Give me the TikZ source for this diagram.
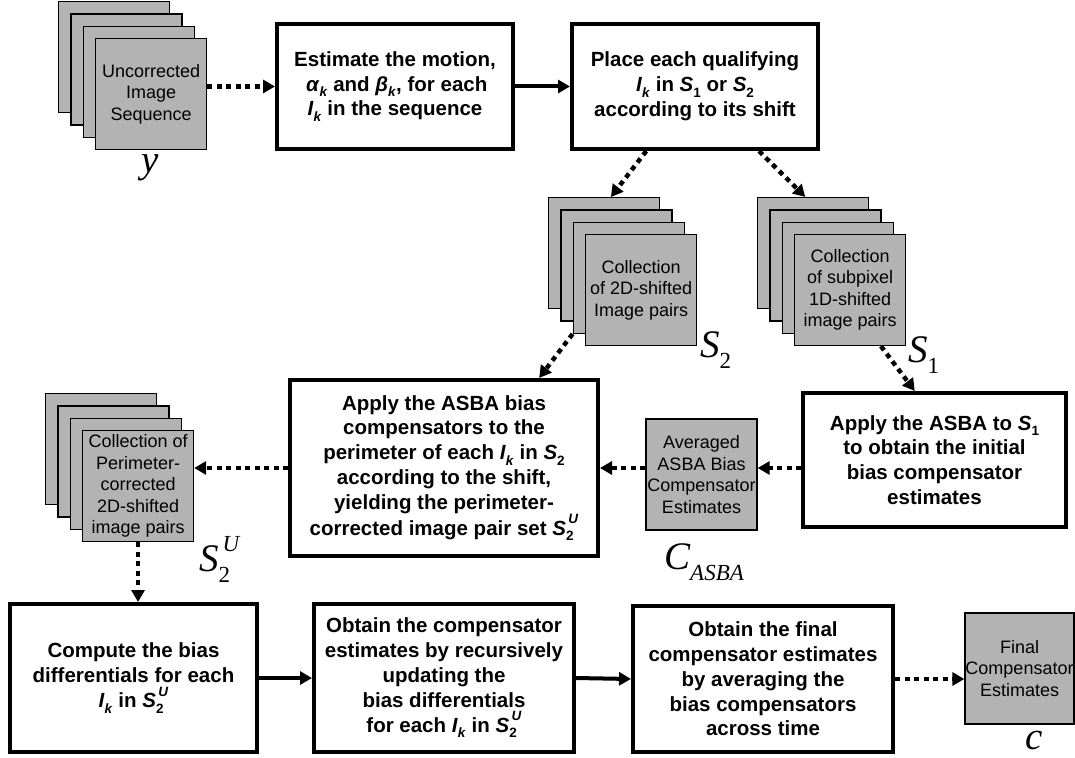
\documentclass[tikz,border=0pt]{standalone}
\usepackage{fontspec}
\setmainfont{Liberation Sans}
\newfontfamily\tms{Liberation Serif}
\usetikzlibrary{arrows.meta,calc}
\definecolor{boxgray}{RGB}{179,179,179}
\newcommand\sbx[1]{\raisebox{-0.28em}{\fontsize{13.5}{13.5}\selectfont #1}}
\newcommand\spx[1]{\raisebox{0.55em}{\fontsize{13.5}{13.5}\selectfont #1}}
\newcommand\Ik{\textit{I}\sbx{\textit{k}}}
\newcommand\Sone{\textit{S}\sbx{1}}
\newcommand\Stwo{\textit{S}\sbx{2}}
\newcommand\StwoU{\textit{S}\rlap{\sbx{2}}\spx{\,\textit{U}}}
\newcommand\lsub[1]{\raisebox{-0.3em}{\fontsize{23}{23}\selectfont #1}}
\newcommand\lsup[1]{\raisebox{0.5em}{\fontsize{23}{23}\selectfont #1}}
\newcommand\imgstack[4]{%
  \node[pg, anchor=north west] (#1a) at (#2,#3) {};
  \node[pg, anchor=north west] (#1b) at ($(#2,#3)+(12.3,12.3)$) {};
  \node[pg, anchor=north west] (#1c) at ($(#2,#3)+(24.6,24.6)$) {};
  \node[pg, anchor=north west] (#1d) at ($(#2,#3)+(36.9,36.9)$) {#4};
}
\tikzset{
  pg/.style={draw=black, line width=1.3pt, fill=boxgray, minimum width=111pt,
    minimum height=111pt, inner sep=0pt, align=center,
    font=\fontsize{18}{21.5}\selectfont},
  bbox/.style={draw=black, line width=4pt, fill=white, inner sep=0pt, align=center,
    font=\bfseries\fontsize{20.5}{24.8}\selectfont},
  dotarrow/.style={line width=4.5pt, dash pattern=on 5pt off 4.5pt,
    -{Triangle[length=12pt,width=13pt]}},
  solidarrow/.style={line width=4pt, -{Triangle[length=12pt,width=13pt]}},
  lab/.style={inner sep=0pt, font=\tms\itshape\fontsize{39}{39}\selectfont}
}
\begin{document}
\begin{tikzpicture}[x=1pt,y=-1pt]
\useasboundingbox (0,0) rectangle (1075,757);
% image stacks
\imgstack{y}{58}{1}{Uncorrected\\Image\\Sequence}
\imgstack{stwo}{548}{197}{Collection\\of 2D-shifted\\Image pairs}
\imgstack{sone}{757}{197}{Collection\\of subpixel\\1D-shifted\\image pairs}
\imgstack{su}{45}{393}{Collection of\\Perimeter-\\corrected\\2D-shifted\\image pairs}
% single gray boxes
\node[pg] (avg) at (701.5,474.5) {Averaged\\ASBA Bias\\Compensator\\Estimates};
\node[pg, minimum width=109pt] (fin) at (1019.5,668.5) {Final\\Compensator\\Estimates};
% process boxes
\node[bbox, minimum width=236pt, minimum height=125pt] (b1) at (395,86.5)
  {Estimate the motion,\\$\,$\textit{α}\sbx{\textit{k}} and \textit{β}\sbx{\textit{k}}, for each\\\Ik\ in the sequence};
\node[bbox, minimum width=246pt, minimum height=125pt] (b2) at (695,86.5)
  {Place each qualifying\\\Ik\ in \Sone\ or \Stwo\\according to its shift};
\node[bbox, minimum width=263pt, minimum height=134pt] (b3) at (934.5,460)
  {Apply the ASBA to \Sone\\to obtain the initial\\bias compensator\\estimates};
\node[bbox, minimum width=308pt, minimum height=176pt] (b4) at (444,468)
  {Apply the ASBA bias\\compensators to the\\perimeter of each \Ik\ in \Stwo\\according to the shift,\\yielding the perimeter-\\corrected image pair set \StwoU};
\node[bbox, minimum width=247pt, minimum height=148pt] (bA) at (133.5,678)
  {Compute the bias\\differentials for each\\\Ik\ in \StwoU};
\node[bbox, minimum width=260pt, minimum height=148pt] (bB) at (444,678)
  {Obtain the compensator\\estimates by recursively\\updating the\\bias differentials\\for each \Ik\ in \StwoU};
\node[bbox, minimum width=260pt, minimum height=146pt] (bC) at (763,679)
  {Obtain the final\\compensator estimates\\by averaging the\\bias compensators\\across time};
% labels
\node[lab, anchor=base] (ly) at (150,172) {y};
\node[lab, anchor=base west] (ls2) at (700,357) {S\lsub{\upshape 2}};
\node[lab, anchor=base west] (ls1) at (908,362) {S\lsub{\upshape 1}};
\node[lab, anchor=base west] (lsu) at (199,571) {S\rlap{\lsub{\upshape 2}}\lsup{\,U}};
\node[lab, anchor=base west] (lc) at (664,569) {C\lsub{ASBA}};
\node[lab, anchor=base] (lcc) at (1034,749) {c};
% connectors
\draw[dotarrow] (yd.east |- b1.west) -- (b1.west);
\draw[solidarrow] (b1.east) -- (b2.west);
\draw[dotarrow] ($(b2.south west)!0.305!(b2.south east)$) -- ($(stwoa.north west)!0.56!(stwoa.north east)$);
\draw[dotarrow] ($(b2.south west)!0.756!(b2.south east)$) -- ($(sonea.north west)!0.43!(sonea.north east)$);
\draw[dotarrow] (stwoc.south west) -- ($(b4.north west)!0.805!(b4.north east)$);
\draw[dotarrow] ($(soned.south west)!0.775!(soned.south east)$) -- ($(b3.north west)!0.426!(b3.north east)$);
\draw[dotarrow] (b3.west |- b4.east) -- (avg.east |- b4.east);
\draw[dotarrow] (avg.west |- b4.east) -- (b4.east);
\draw[dotarrow] (b4.west) -- (sud.east |- b4.west);
\draw[dotarrow] (sud.south) -- (sud.south |- bA.north);
\draw[solidarrow] (bA.east) -- (bB.west);
\draw[solidarrow] (bB.east) -- (bC.west);
\draw[dotarrow] (bC.east) -- (fin.west |- bC.east);
\end{tikzpicture}
\end{document}
